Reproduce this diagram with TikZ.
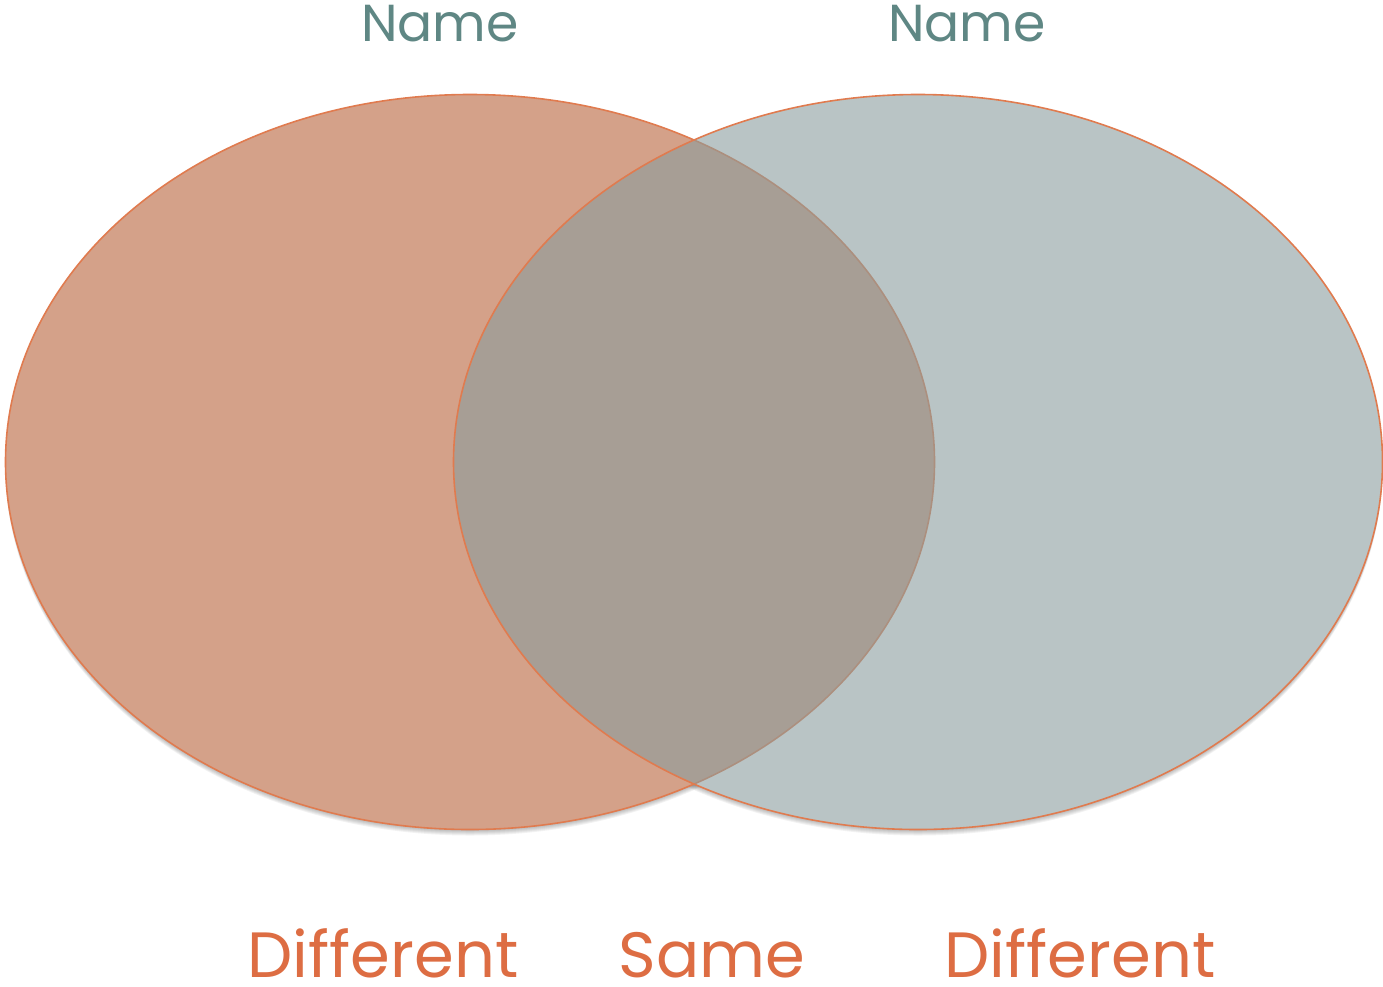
\documentclass[tikz,border=0pt]{standalone}
\usepackage{fontspec}
\setmainfont{Poppins}
\usetikzlibrary{shapes.geometric}
\definecolor{leftfill}{HTML}{D4A189}
\definecolor{rightfill}{HTML}{8A9D9E}
\definecolor{edge}{HTML}{E07B4F}
\definecolor{namecol}{HTML}{5F8784}
\definecolor{labcol}{HTML}{DD6D43}
\tikzset{
  setshape/.style={ellipse, draw=edge, line width=1.6pt, minimum width=929pt, minimum height=735pt, inner sep=0pt},
  shadowshape/.style={ellipse, fill=black, fill opacity=0.05, draw=none, minimum width=929pt, minimum height=735pt, inner sep=0pt},
  nametext/.style={text=namecol, font=\fontsize{52}{60}\selectfont, anchor=base, inner sep=0pt, text depth=0pt},
  labtext/.style={text=labcol, font=\fontsize{64}{72}\selectfont, anchor=base, inner sep=0pt, text depth=0pt}
}
\begin{document}
\begin{tikzpicture}[x=1pt,y=-1pt]
\useasboundingbox (0,0) rectangle (1383,986);
\begin{scope}[even odd rule]
  \clip (-10,-10) rectangle (1400,1000) (470,462) ellipse [x radius=464.5pt, y radius=367.5pt];
  \begin{scope}[even odd rule]
    \clip (-10,-10) rectangle (1400,1000) (918,462) ellipse [x radius=464.5pt, y radius=367.5pt];
    \foreach \d in {1,2,3,4,5,6}{
      \node[shadowshape] (sl\d) at (470,{462+\d}) {};
      \node[shadowshape] (sr\d) at (918,{462+\d}) {};
    }
  \end{scope}
\end{scope}
\node[setshape, fill=leftfill] (L) at (470,462) {};
\node[setshape, fill=rightfill, fill opacity=0.6] (R) at (918,462) {};
\node[nametext] (n1) at (440,41) {Name};
\node[nametext] (n2) at (967,41) {Name};
\node[labtext] (d1) at (383,977) {Different};
\node[labtext] (s) at (712,977) {Same};
\node[labtext] (d2) at (1080,977) {Different};
\end{tikzpicture}
\end{document}
